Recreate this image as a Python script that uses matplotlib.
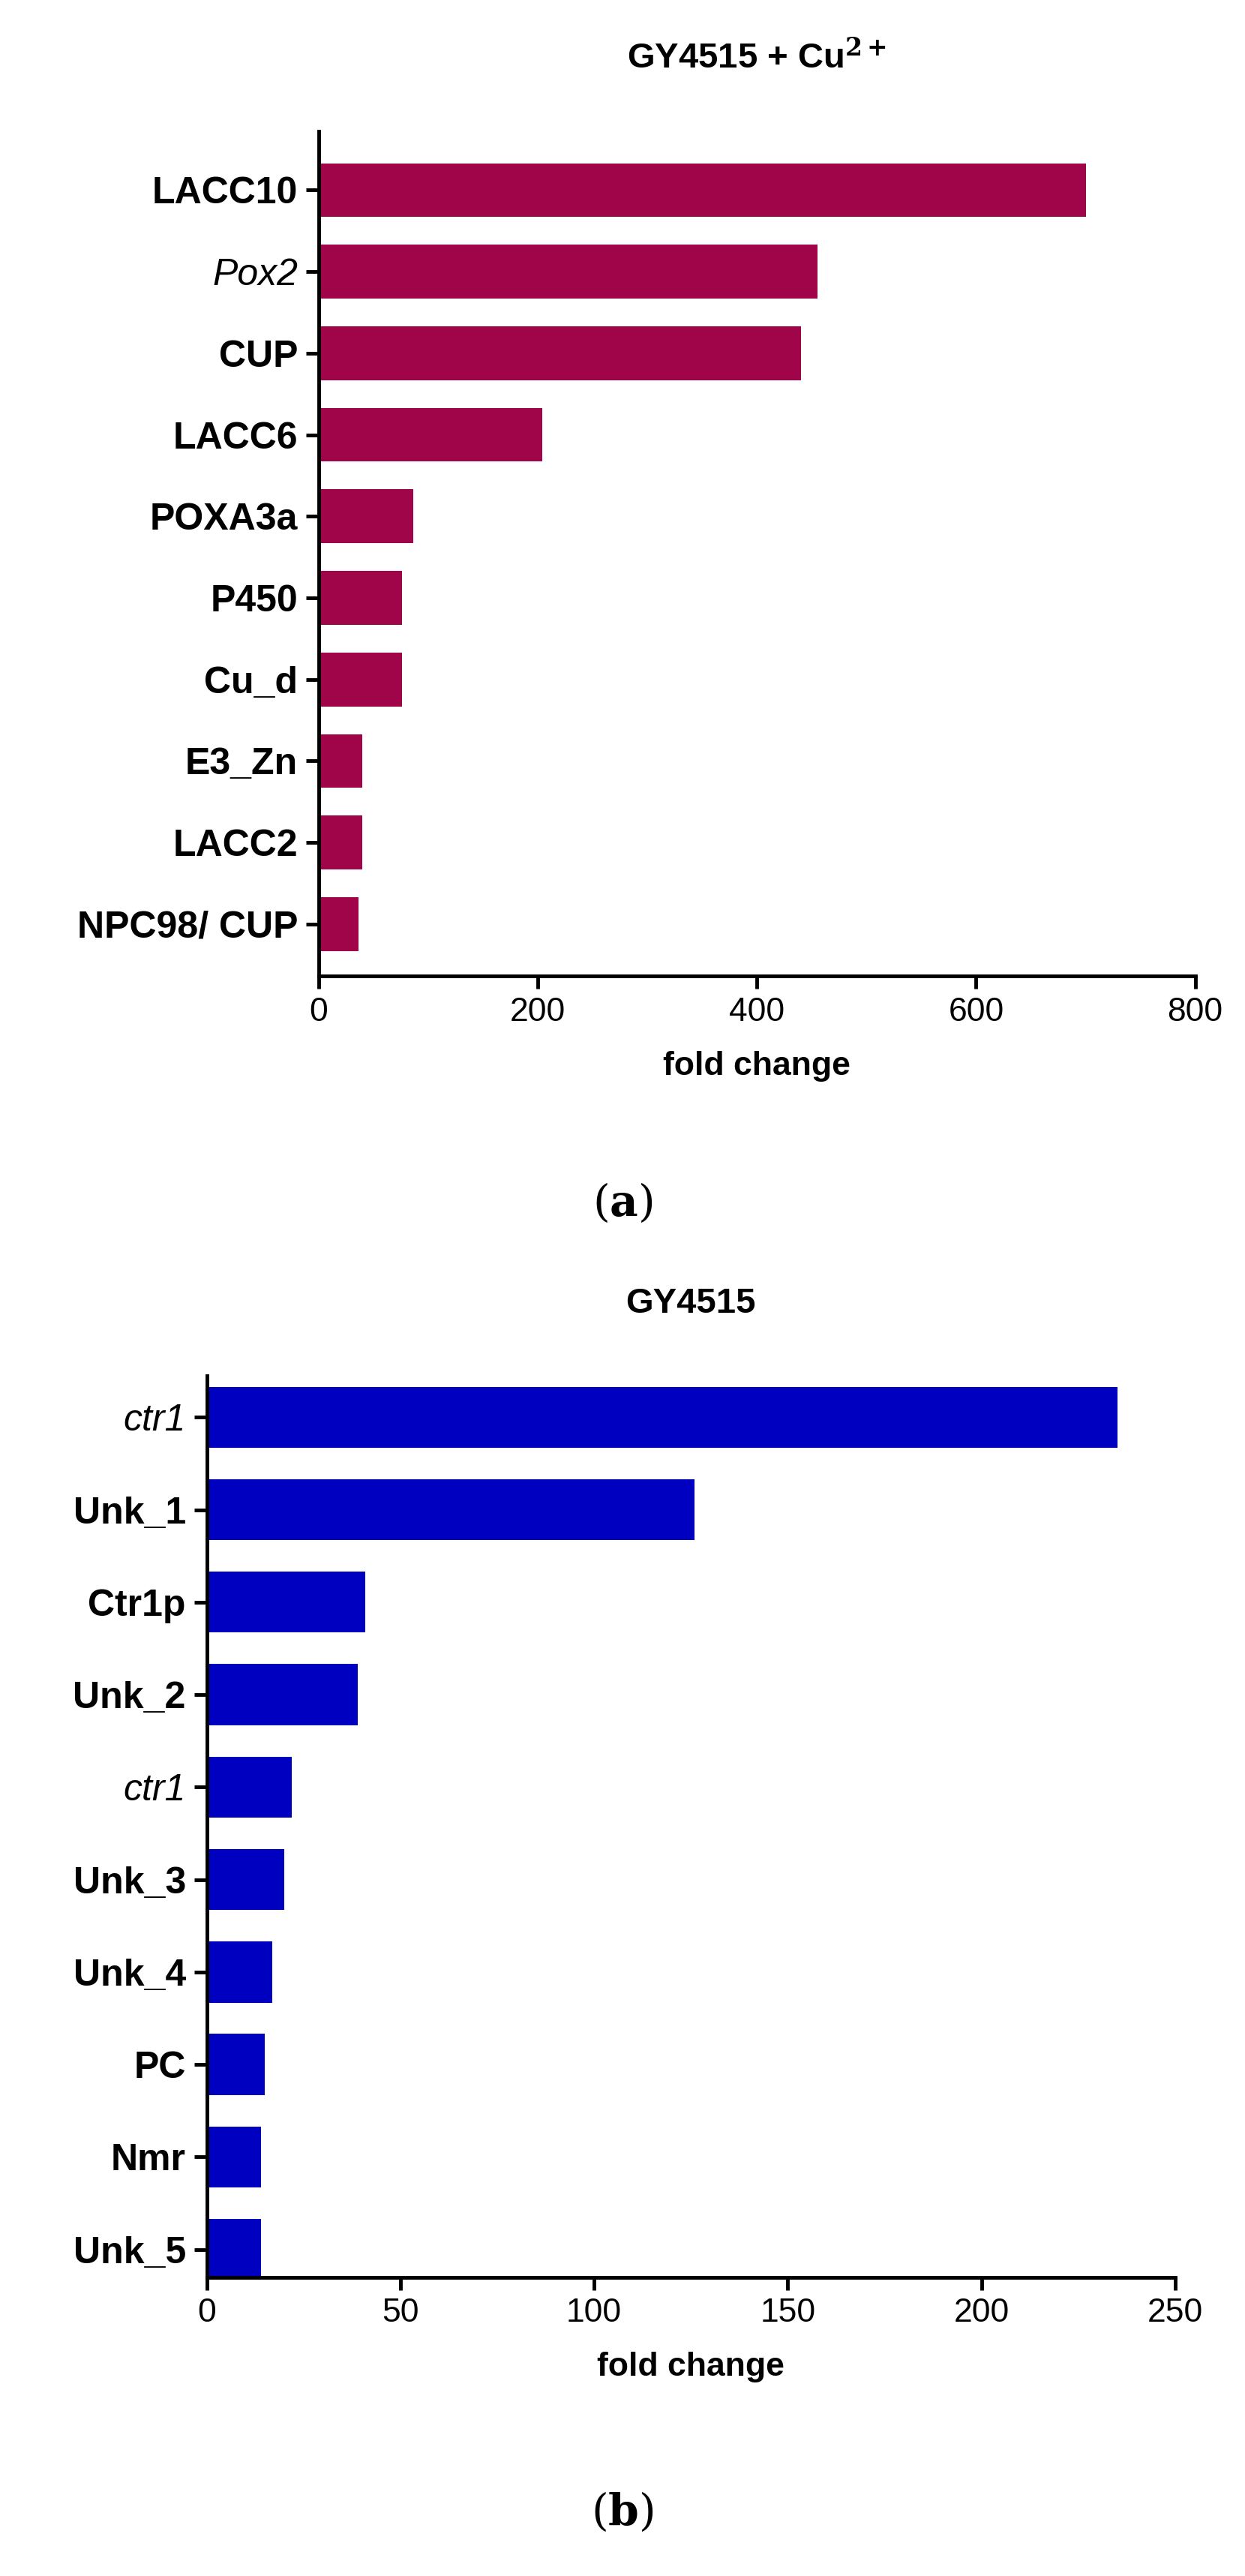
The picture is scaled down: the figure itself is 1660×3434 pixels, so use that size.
import matplotlib
matplotlib.use("Agg")
import matplotlib.pyplot as plt

# =========================
# DATA
# =========================
genes_a = ["LACC10", "Pox2", "CUP", "LACC6", "POXA3a", "P450", "Cu_d", "E3_Zn", "LACC2", "NPC98/ CUP"]
fold_a = [700, 455, 440, 204, 86, 76, 76, 40, 40, 36]

genes_b = ["ctr1", "Unk_1", "Ctr1p", "Unk_2", "ctr1", "Unk_3", "Unk_4", "PC", "Nmr", "Unk_5"]
fold_b = [235, 126, 41, 39, 22, 20, 17, 15, 14, 14]

ticks_a = [0, 200, 400, 600, 800]
ticks_b = [0, 50, 100, 150, 200, 250]

plt.rcParams["font.family"] = ["Liberation Sans", "DejaVu Sans"]
plt.rcParams["mathtext.fontset"] = "dejavuserif"

fig = plt.figure(figsize=(16.6, 34.34), dpi=100)


def panel(rect, genes, vals, ticks, color, title, italic_idx, ylim):
    ax = fig.add_axes(rect)
    pos = list(range(len(genes)))
    ax.barh(pos, vals, height=0.66, color=color)
    ax.set_ylim(*ylim)
    ax.set_xlim(ticks[0], ticks[-1])
    ax.set_xticks(ticks)
    ax.set_yticks(pos)
    ax.set_yticklabels(genes)
    for i, lab in enumerate(ax.get_yticklabels()):
        if i in italic_idx:
            lab.set_fontstyle("italic")
            lab.set_fontweight("normal")
        else:
            lab.set_fontweight("bold")
        lab.set_fontsize(36)
    for lab in ax.get_xticklabels():
        lab.set_fontsize(32)
    for s in ["top", "right"]:
        ax.spines[s].set_visible(False)
    for s in ["left", "bottom"]:
        ax.spines[s].set_linewidth(3.5)
    ax.tick_params(width=3.5, length=12, direction="out", pad=8)
    ax.set_xlabel("fold change", fontsize=32, fontweight="bold", labelpad=22)
    ax.set_title(title, fontsize=34, fontweight="bold", pad=60)
    return ax


panel([0.256, 0.621, 0.704, 0.328], genes_a, fold_a, ticks_a, "#A0054A",
      "GY4515 + Cu$^{\\mathbf{2+}}$", [1], (9.64, -0.72))
panel([0.166, 0.116, 0.778, 0.350], genes_b, fold_b, ticks_b, "#0000C0",
      "GY4515", [0, 4], (9.3, -0.45))

fig.text(0.5, 1 - 740 / 1584, "($\\mathbf{a}$)", ha="center", va="center",
         fontsize=42, family="DejaVu Serif")
fig.text(0.5, 1 - 1545 / 1584, "($\\mathbf{b}$)", ha="center", va="center",
         fontsize=42, family="DejaVu Serif")

fig.savefig("out.png", dpi=100, facecolor="white")
